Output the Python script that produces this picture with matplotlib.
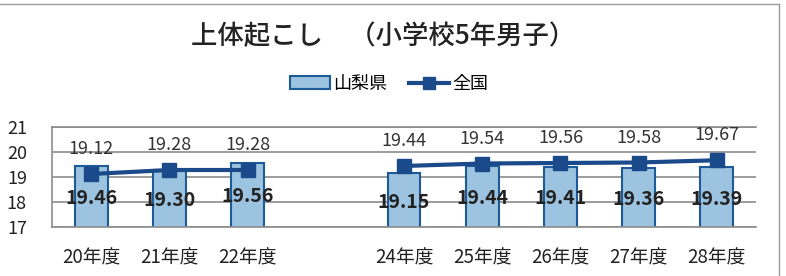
import numpy as np
import matplotlib
matplotlib.use('Agg')
from matplotlib import pyplot as plt
from matplotlib.lines import Line2D
from matplotlib.patches import Patch

plt.rcParams['font.family'] = ['Noto Sans CJK JP', 'DejaVu Sans']

years = ['20年度', '21年度', '22年度', '', '24年度', '25年度', '26年度', '27年度', '28年度']
yamanashi = [19.46, 19.30, 19.56, np.nan, 19.15, 19.44, 19.41, 19.36, 19.39]
zenkoku = [19.12, 19.28, 19.28, np.nan, 19.44, 19.54, 19.56, 19.58, 19.67]
title = '上体起こし　（小学校5年男子）'

bar_fill = '#9cc3df'
bar_edge = '#1d5b98'
line_col = '#1a4a8a'
grid_col = '#8c8c8c'

fig = plt.figure(figsize=(7.86, 2.76), dpi=100)
ax = fig.add_axes([52/786, 1-227/276, (756-52)/786, 100/276])

x = np.arange(len(years))
ax.bar(x, yamanashi, width=0.42, color=bar_fill, edgecolor=bar_edge, linewidth=1.5, zorder=2)
ax.plot(x, zenkoku, color=line_col, lw=3, marker='s', markersize=10, zorder=3)

# data labels
for xi, v in zip(x, yamanashi):
    if not np.isnan(v):
        ax.text(xi, (17 + v) / 2 - 0.08, '%.2f' % v, ha='center', va='center',
                fontsize=14, fontweight='bold', color='#222222', zorder=4)
for xi, v in zip(x, zenkoku):
    if not np.isnan(v):
        ax.annotate('%.2f' % v, (xi, v), xytext=(0, 18), textcoords='offset points',
                    ha='center', va='center', fontsize=13, color='#333333', zorder=4)

ax.set_xlim(-0.5, len(years) - 0.5)
ax.set_ylim(17, 21)
ax.set_yticks([17, 18, 19, 20, 21])
ax.set_xticks(x)
ax.set_xticklabels(years)
ax.yaxis.grid(True, color=grid_col, lw=1.2, zorder=0)
ax.set_axisbelow(True)
ax.tick_params(axis='x', length=0, labelsize=13.5, colors='#222222', pad=15)
ax.tick_params(axis='y', length=0, labelsize=13, colors='#222222', pad=18)
ax.spines['right'].set_visible(False)
for s in ['left', 'top', 'bottom']:
    ax.spines[s].set_color(grid_col)
    ax.spines[s].set_linewidth(1.2)

fig.text(383/786, 1-37/276, title, ha='center', va='center', fontsize=19,
         fontweight='medium', color='#222222')

handles = [Patch(facecolor=bar_fill, edgecolor=bar_edge, linewidth=1.5),
           Line2D([], [], color=line_col, lw=3, marker='s', markersize=8)]
fig.legend(handles, ['山梨県', '全国'], loc='center', bbox_to_anchor=(389/786, 1-84/276),
           ncol=2, frameon=False, fontsize=13, handlelength=2.2, handletextpad=0.2,
           columnspacing=1.2)

# frame of the scanned figure
fig.add_artist(Line2D([0, 779/786], [1-4/276, 1-4/276], color='#999999', lw=1))
fig.add_artist(Line2D([779/786, 779/786], [1-4/276, 0], color='#999999', lw=1))

fig.savefig('out.png', dpi=100)
